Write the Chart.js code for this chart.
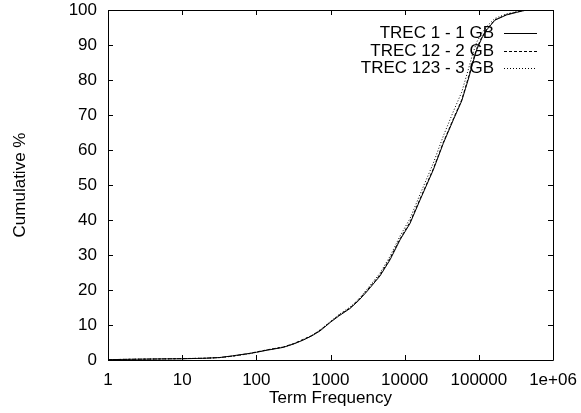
<!DOCTYPE html>
<html>
<head>
<meta charset="utf-8">
<script src="https://cdn.jsdelivr.net/npm/chart.js@4/dist/chart.umd.min.js"></script>
<style>
  html, body { margin: 0; padding: 0; background: #fff; }
  #wrap { width: 581px; height: 413px; position: relative; }
</style>
</head>
<body>
<div id="wrap"><canvas id="c" width="581" height="413"></canvas></div>
<script>
// ---- Data ----
const seriesNames = ['TREC 1 - 1 GB', 'TREC 12 - 2 GB', 'TREC 123 - 3 GB'];

const trec1Freq = [1, 2, 5, 10, 20, 32, 48, 82, 100, 140, 230, 320, 430, 560, 722, 1000, 1300, 1830, 2400, 3076, 4645, 6340, 8650, 11800, 16100, 24300, 33200, 45300, 58700, 66000, 74000, 82000, 93500, 110000, 127600, 165000, 237000, 320000, 400000, 450000];
const trec1Pct  = [0.1, 0.2, 0.3, 0.35, 0.5, 0.7, 1.2, 1.9, 2.2, 2.8, 3.6, 4.6, 5.7, 6.9, 8.3, 10.8, 12.6, 14.7, 17.0, 19.5, 24.0, 28.6, 34.3, 39.0, 45.7, 54.3, 61.9, 68.6, 74.0, 77.5, 81.0, 84.5, 88.6, 92.0, 94.3, 97.1, 98.6, 99.3, 99.8, 100];

const trec12Freq = [1, 2, 5, 10, 20, 32, 48, 82, 100, 140, 230, 320, 430, 560, 722, 1000, 1300, 1830, 2400, 3076, 4645, 6340, 8650, 11800, 16100, 24300, 33200, 45300, 58700, 66000, 74000, 82000, 93500, 110000, 127600, 165000, 237000, 320000, 400000, 460000];
const trec12Pct  = [0.1, 0.2, 0.3, 0.4, 0.5, 0.7, 1.1, 1.9, 2.3, 2.9, 3.7, 4.7, 5.9, 7.0, 8.5, 10.9, 12.8, 14.9, 17.2, 19.8, 24.3, 29.0, 34.6, 39.4, 46.0, 54.6, 62.2, 68.9, 74.3, 77.9, 81.5, 85.0, 89.0, 92.3, 94.5, 97.2, 98.7, 99.4, 99.8, 100];

const trec123Freq = [1, 2, 5, 10, 20, 32, 48, 82, 100, 140, 230, 320, 430, 560, 722, 1000, 1300, 1830, 2400, 3076, 4645, 6340, 8650, 11800, 16100, 24300, 33200, 45300, 58700, 66000, 74000, 82000, 93500, 110000, 127600, 165000, 237000, 320000, 400000, 470000];
const trec123Pct  = [0.1, 0.2, 0.3, 0.4, 0.5, 0.7, 1.1, 1.8, 2.2, 2.9, 3.7, 4.6, 5.8, 7.0, 8.6, 11.0, 13.0, 15.1, 17.4, 20.1, 24.8, 29.6, 35.4, 40.4, 47.3, 56.2, 64.0, 71.0, 76.5, 80.2, 83.8, 87.2, 90.8, 93.4, 95.3, 97.6, 98.9, 99.5, 99.9, 100];

const xTickValues = [1, 10, 100, 1000, 10000, 100000, 1000000];
const xTickLabels = ['1', '10', '100', '1000', '10000', '100000', '1e+06'];
const yTickValues = [0, 10, 20, 30, 40, 50, 60, 70, 80, 90, 100];

const xTitle = 'Term Frequency';
const yTitle = 'Cumulative %';

// ---- Styling ----
const FONT = "'Liberation Sans', Arial, Helvetica, sans-serif";
const FS = 17;
const dashes = [[], [3, 2], [1, 2]];

function pts(xs, ys) { return xs.map((x, i) => ({ x: x, y: ys[i] })); }

const datasets = [
  { label: seriesNames[0], data: pts(trec1Freq, trec1Pct) },
  { label: seriesNames[1], data: pts(trec12Freq, trec12Pct) },
  { label: seriesNames[2], data: pts(trec123Freq, trec123Pct) }
].map((d, i) => Object.assign(d, {
  borderColor: '#000',
  borderWidth: 1,
  borderDash: dashes[i],
  pointRadius: 0,
  fill: false,
  tension: 0
}));

const framePlugin = {
  id: 'frame',
  afterDraw(chart) {
    const ctx = chart.ctx;
    const a = chart.chartArea;
    const xs = chart.scales.x, ys = chart.scales.y;
    ctx.save();
    ctx.strokeStyle = '#000';
    ctx.lineWidth = 1;
    ctx.setLineDash([]);
    ctx.beginPath();
    ctx.rect(Math.round(a.left) + 0.5, Math.round(a.top) + 0.5, Math.round(a.right - a.left), Math.round(a.bottom - a.top));
    ctx.stroke();
    const TL = 5;
    ctx.beginPath();
    xTickValues.forEach(v => {
      const px = Math.round(xs.getPixelForValue(v)) + 0.5;
      ctx.moveTo(px, a.bottom); ctx.lineTo(px, a.bottom - TL);
      ctx.moveTo(px, a.top); ctx.lineTo(px, a.top + TL);
    });
    yTickValues.forEach(v => {
      const py = Math.round(ys.getPixelForValue(v)) + 0.5;
      ctx.moveTo(a.left, py); ctx.lineTo(a.left + TL, py);
      ctx.moveTo(a.right, py); ctx.lineTo(a.right - TL, py);
    });
    ctx.stroke();

    // legend (inside, top-right)
    ctx.font = FS + 'px ' + FONT;
    ctx.fillStyle = '#000';
    ctx.textAlign = 'right';
    ctx.textBaseline = 'middle';
    const textRight = 494, lx0 = 504, lx1 = 537;
    const rowY = [33, 51, 68];
    seriesNames.forEach((n, i) => {
      ctx.fillText(n, textRight, rowY[i]);
      ctx.beginPath();
      ctx.setLineDash(dashes[i]);
      ctx.lineWidth = i === 0 ? 1.2 : 1;
      ctx.moveTo(lx0, rowY[i] + 0.5);
      ctx.lineTo(lx1, rowY[i] + 0.5);
      ctx.stroke();
    });
    ctx.restore();
  }
};

new Chart(document.getElementById('c'), {
  type: 'line',
  data: { datasets: datasets },
  plugins: [framePlugin],
  options: {
    responsive: false,
    animation: false,
    parsing: true,
    layout: { padding: { top: 10, right: 28, left: 0, bottom: 0 } },
    plugins: { legend: { display: false }, tooltip: { enabled: false } },
    scales: {
      x: {
        type: 'logarithmic',
        min: 1,
        max: 1000000,
        afterBuildTicks(scale) { scale.ticks = xTickValues.map(v => ({ value: v })); },
        afterFit(scale) { scale.height = 53; scale.paddingLeft = 0; scale.paddingRight = 0; },
        grid: { display: false, drawTicks: false },
        border: { display: false },
        ticks: {
          autoSkip: false,
          maxRotation: 0,
          padding: 10,
          color: '#000',
          font: { family: FONT, size: FS },
          callback(v) { const i = xTickValues.indexOf(v); return i >= 0 ? xTickLabels[i] : ''; }
        },
        title: {
          display: true, text: xTitle, color: '#000',
          font: { family: FONT, size: FS },
          padding: { top: 0, bottom: 4 }
        }
      },
      y: {
        min: 0,
        max: 100,
        afterBuildTicks(scale) { scale.ticks = yTickValues.map(v => ({ value: v })); },
        afterFit(scale) { scale.width = 108; scale.paddingTop = 0; scale.paddingBottom = 0; },
        grid: { display: false, drawTicks: false },
        border: { display: false },
        ticks: {
          padding: 11,
          color: '#000',
          font: { family: FONT, size: FS }
        },
        title: {
          display: true, text: yTitle, color: '#000',
          font: { family: FONT, size: FS },
          padding: { top: 10, bottom: 0 }
        }
      }
    }
  }
});
</script>
</body>
</html>
